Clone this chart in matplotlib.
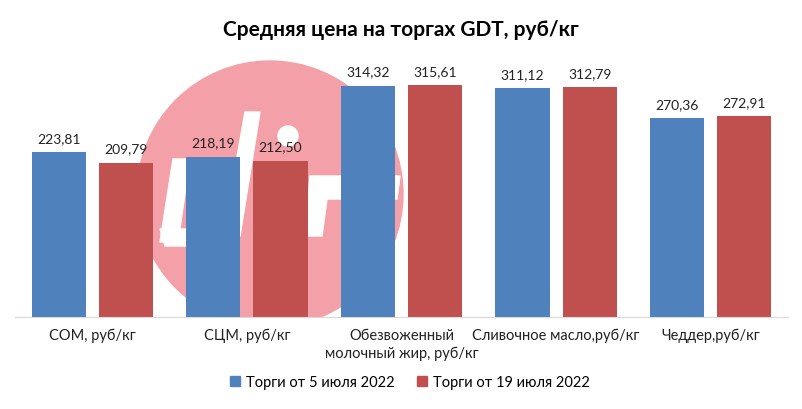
import matplotlib
matplotlib.use("Agg")
import matplotlib.pyplot as plt
from matplotlib.patches import Circle, Polygon
from matplotlib.transforms import IdentityTransform
import numpy as np

categories = ["СОМ, руб/кг", "СЦМ, руб/кг", "Обезвоженный\nмолочный жир, руб/кг",
              "Сливочное масло,руб/кг", "Чеддер,руб/кг"]
series_names = ["Торги от 5 июля 2022", "Торги от 19 июля 2022"]
july5 = [223.81, 218.19, 314.32, 311.12, 270.36]
july19 = [209.79, 212.50, 315.61, 312.79, 272.91]
colors = ["#4F81BD", "#C0504D"]

plt.rcParams['font.family'] = ['Lato', 'DejaVu Sans']

W, H = 802, 410
fig = plt.figure(figsize=(W/100, H/100), dpi=100)
ax = fig.add_axes([15/W, (H-318)/H, 773/W, (318-60)/H])

x = np.arange(len(categories))
w = 0.35
off = 0.217
for vals, dx, c in [(july5, -off, colors[0]), (july19, off, colors[1])]:
    bars = ax.bar(x + dx, vals, width=w, color=c, zorder=3)
    for b, v in zip(bars, vals):
        ax.annotate(f"{v:.2f}".replace('.', ','), (b.get_x() + b.get_width()/2, v),
                    xytext=(0, 6), textcoords='offset points',
                    ha='center', va='bottom', fontsize=10, color='#222222', zorder=4)

# watermark logo (decorative background)
ident = IdentityTransform()
def P(px, py):
    return (px, H - py)
circ = Circle(P(270, 195), 133, transform=ident, color='#F4A0A8', zorder=1)
ax.add_patch(circ)
circ.set_clip_box(ax.bbox)
shapes = [
    [(173, 160), (190, 160), (178, 243), (160, 243)],
    [(160, 230), (240, 230), (236, 247), (165, 247)],
    [(245, 113), (260, 113), (240, 237), (223, 237)],
    [(310, 177), (400, 177), (397, 200), (327, 200), (322, 237), (305, 237)],
]
for s in shapes:
    poly = Polygon([P(*p) for p in s], closed=True, transform=ident,
                   color='white', zorder=2)
    ax.add_patch(poly)
    poly.set_clip_path(circ)
dot = Circle(P(288, 137), 10, transform=ident, color='white', zorder=2)
ax.add_patch(dot)
dot.set_clip_path(circ)

ax.set_xlim(-0.5, 4.5)
ax.set_ylim(0, 351)
ax.set_yticks([])
ax.set_xticks(x)
ax.set_xticklabels(categories, fontsize=10.5, color='#222222', linespacing=1.3)
ax.tick_params(axis='x', length=0, pad=8)
for s in ['top', 'right', 'left']:
    ax.spines[s].set_visible(False)
ax.spines['bottom'].set_color('#D9D9D9')
ax.spines['bottom'].set_zorder(5)
ax.patch.set_alpha(0)

fig.suptitle("Средняя цена на торгах GDT, руб/кг", fontsize=15, fontweight='bold',
             y=1-30/H, va='center')

handles = [plt.Rectangle((0, 0), 1, 1, color=c) for c in colors]
fig.legend(handles, series_names, loc='center', bbox_to_anchor=(410/W, 1-383/H),
           ncol=2, frameon=False, fontsize=10.5, handlelength=0.7, handleheight=0.7,
           handletextpad=0.4, columnspacing=1.5)

fig.savefig("out.png", dpi=100)
